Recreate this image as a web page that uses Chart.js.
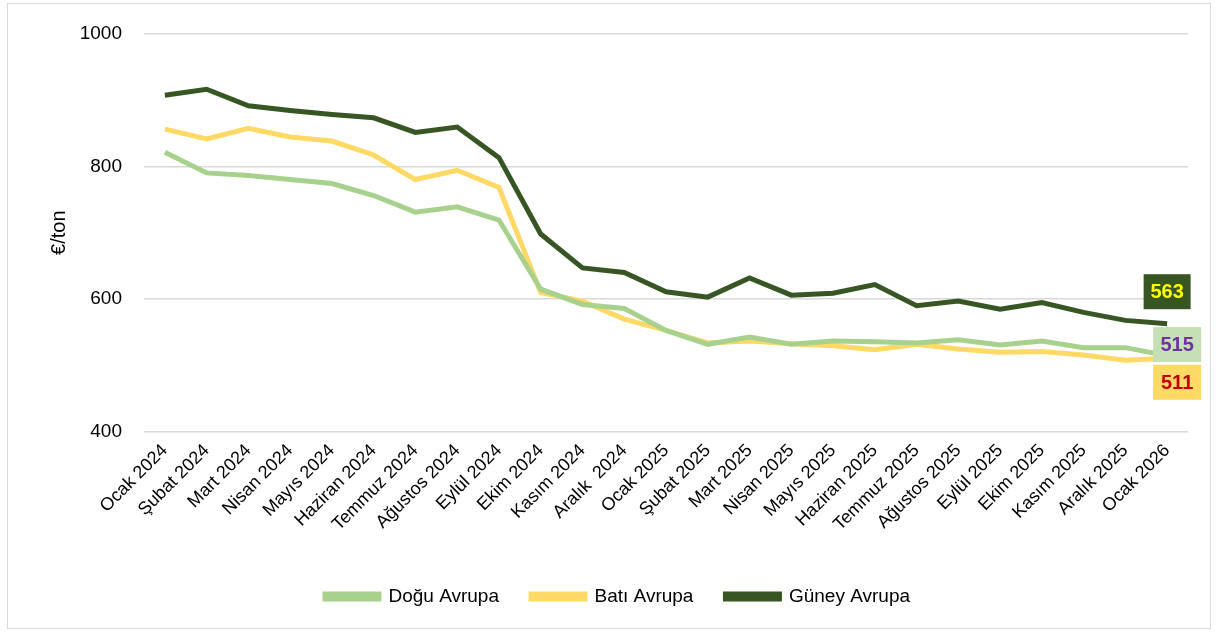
<!DOCTYPE html>
<html><head><meta charset="utf-8">
<script src="https://cdn.jsdelivr.net/npm/chart.js@4.4.1/dist/chart.umd.min.js"></script>
<style>
html,body{margin:0;padding:0;background:#fff;}
#wrap{position:relative;width:1216px;height:632px;}
#frame{position:absolute;left:7px;top:3px;width:1202px;height:624px;border:1px solid #d9d9d9;pointer-events:none;}
</style></head>
<body>
<div id="wrap"><canvas id="c" width="1216" height="632"></canvas><div id="frame"></div></div>
<script>
const categories = ["Ocak 2024","Şubat 2024","Mart 2024","Nisan 2024","Mayıs 2024","Haziran 2024","Temmuz 2024","Ağustos 2024","Eylül 2024","Ekim 2024","Kasım 2024","Aralık  2024","Ocak 2025","Şubat 2025","Mart 2025","Nisan 2025","Mayıs 2025","Haziran 2025","Temmuz 2025","Ağustos 2025","Eylül 2025","Ekim 2025","Kasım 2025","Aralık 2025","Ocak 2026"];
const doguAvrupa = [821,790,786,780,774,756,731,739,719,615,592,586,553,532,543,532,537,536,534,539,531,537,527,527,515];
const batiAvrupa = [856,841,857,844,838,817,780,794,768,610,597,570,553,534,537,533,530,524,532,525,520,521,516,508,511];
const guneyAvrupa = [907,916,891,884,878,873,851,859,813,698,647,640,611,603,632,606,609,622,590,597,585,595,580,568,563];
const yTicks = [400,600,800,1000];

const FONT = "'Liberation Sans', Arial, sans-serif";

const endLabels = {
  id:'endLabels',
  afterDatasetsDraw(chart, args, opts){
    const ctx = chart.ctx;
    chart.data.datasets.forEach((ds, i) => {
      const cfg = opts.items[i];
      const meta = chart.getDatasetMeta(i);
      const pt = meta.data[meta.data.length-1];
      const txt = String(ds.data[ds.data.length-1]);
      const cx = pt.x + cfg.dx, cy = pt.y + cfg.dy;
      ctx.save();
      ctx.fillStyle = cfg.bg;
      ctx.fillRect(cx - cfg.w/2, cy - cfg.h/2, cfg.w, cfg.h);
      ctx.fillStyle = cfg.color;
      ctx.font = "bold 20px " + FONT;
      ctx.textAlign='center'; ctx.textBaseline='middle';
      ctx.fillText(txt, cx, cy+1);
      ctx.restore();
    });
  }
};

new Chart(document.getElementById('c'), {
  type:'line',
  data:{
    labels: categories,
    datasets:[
      {label:'Doğu Avrupa', data: doguAvrupa, borderColor:'#a9d18e', backgroundColor:'#a9d18e', borderWidth:5, pointRadius:0, tension:0},
      {label:'Batı Avrupa', data: batiAvrupa, borderColor:'#ffd966', backgroundColor:'#ffd966', borderWidth:5, pointRadius:0, tension:0},
      {label:'Güney Avrupa', data: guneyAvrupa, borderColor:'#375623', backgroundColor:'#375623', borderWidth:5, pointRadius:0, tension:0}
    ]
  },
  options:{
    responsive:false, animation:false,
    layout:{padding:{left:47,right:28,top:29,bottom:16}},
    scales:{
      x:{
        offset:true,
        grid:{display:false},
        border:{display:false},
        ticks:{color:'#000', font:{family:FONT,size:18}, maxRotation:45, minRotation:45, autoSkip:false, padding:0},
        afterFit(s){ s.height = 123; }
      },
      y:{
        min:400, max:1000,
        afterBuildTicks(s){ s.ticks = yTicks.map(v=>({value:v})); },
        grid:{color:'#d9d9d9', lineWidth:1.5, drawTicks:false},
        border:{display:false},
        ticks:{color:'#000', font:{family:FONT,size:19}, padding:22, callback:(v)=>String(v)},
        title:{display:true, text:'€/ton', color:'#000', font:{family:FONT,size:20}, padding:0},
        afterFit(s){ s.width = 97; }
      }
    },
    plugins:{
      legend:{
        position:'bottom',
        labels:{color:'#000', font:{family:FONT,size:19}, boxWidth:54, boxHeight:5, padding:32}
      },
      tooltip:{enabled:false},
      endLabels:{items:[
        {dx:10, dy:-11, w:48, h:35, bg:'#c5e0b4', color:'#7030a0'},
        {dx:10, dy:24, w:48, h:35, bg:'#ffd966', color:'#c00000'},
        {dx:0, dy:-32, w:47, h:35, bg:'#375623', color:'#ffff00'}
      ]}
    }
  },
  plugins:[endLabels]
});
</script>
</body></html>
